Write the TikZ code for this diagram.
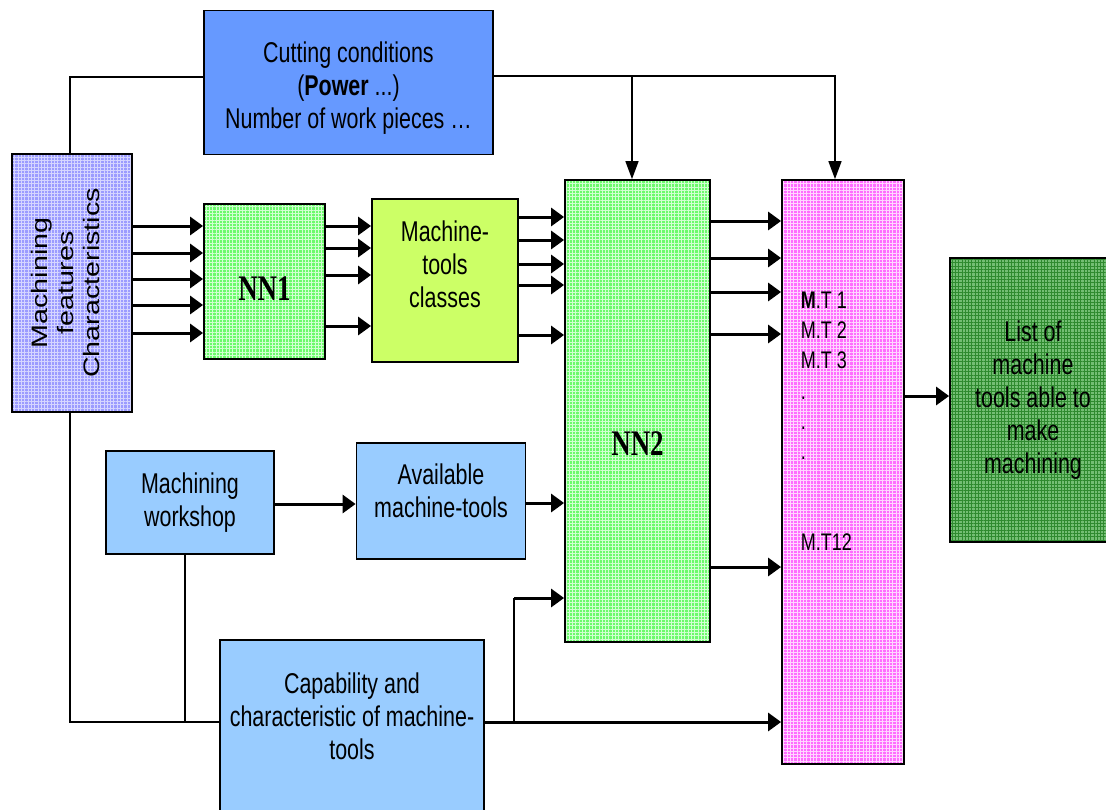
\documentclass[tikz,border=0pt]{standalone}
\usepackage{graphicx}
\usepackage{fontspec}
\setmainfont{Liberation Sans}[FakeStretch=0.75]
\newfontfamily\sidefont{Liberation Sans}
\newfontfamily\nnfont{Liberation Serif}[FakeStretch=0.75]
\usetikzlibrary{arrows.meta, patterns}

\definecolor{cutblue}{HTML}{6699FF}
\definecolor{featblue}{HTML}{9C9CFF}
\definecolor{featline}{HTML}{D6D6FF}
\definecolor{nngreen}{HTML}{6CFA6C}
\definecolor{nnline}{HTML}{D2FFD2}
\definecolor{classlime}{HTML}{CCFF66}
\definecolor{mtpink}{HTML}{FF6CFF}
\definecolor{mtline}{HTML}{FFD6FF}
\definecolor{listgreen}{HTML}{74BE74}
\definecolor{listline}{HTML}{2F8A2F}
\definecolor{shopblue}{HTML}{99CCFF}

% 细网格底纹
\pgfdeclarepatternformonly{mesh}{\pgfqpoint{-0.1pt}{-0.1pt}}{\pgfqpoint{3.4pt}{3.4pt}}{\pgfqpoint{3.3pt}{3.3pt}}{%
  \pgfsetlinewidth{0.8pt}
  \pgfpathmoveto{\pgfqpoint{0pt}{1.65pt}}\pgfpathlineto{\pgfqpoint{3.3pt}{1.65pt}}
  \pgfpathmoveto{\pgfqpoint{1.65pt}{0pt}}\pgfpathlineto{\pgfqpoint{1.65pt}{3.3pt}}
  \pgfusepath{stroke}}

% 文字上下微调: #1 = 抬高量
\newcommand\boxtext[2]{\raisebox{#1}[0pt][0pt]{\begin{tabular}[t]{@{}c@{}}#2\end{tabular}}}

\begin{document}
\begin{tikzpicture}[x=1pt, y=-1pt, line width=1.6pt,
  box/.style={draw, line width=1.8pt, inner sep=0pt, font=\fontsize{28.6}{33}\selectfont},
  meshfill/.style 2 args={preaction={fill=#1}, pattern=mesh, pattern color=#2},
  nnfont/.style={font=\nnfont\bfseries\fontsize{36}{42}\selectfont},
  arr/.style={line width=3pt, -{Triangle[length=13pt,width=18pt]}},
  drop/.style={-{Triangle[length=18pt,width=13pt]}}]
  \useasboundingbox (0,0) rectangle (1106,809);
  \clip (0,0) rectangle (1106,809);
  % 方框 (像素坐标, y 向下)
  \node[box, fill=cutblue, minimum width=289pt, minimum height=144pt] (cut) at (348.5,82.5)
    {\boxtext{20pt}{Cutting conditions\\(\textbf{Power} ...)\\Number of work pieces \ldots}};
  \node[box, meshfill={featblue}{featline}, minimum width=120pt, minimum height=258pt,
    font=\sidefont\fontsize{28.7}{33}\selectfont] (feat) at (72,283)
    {\rotatebox{90}{\scalebox{1}[0.78]{\boxtext{31pt}{Machining\\features\\Characteristics}}}};
  \node[box, nnfont, meshfill={nngreen}{nnline}, minimum width=121pt, minimum height=155pt] (nn1) at (264.5,281.5)
    {\boxtext{-19pt}{NN1}};
  \node[box, fill=classlime, minimum width=146pt, minimum height=163pt] (classes) at (445,280.5)
    {\boxtext{39pt}{Machine-\\tools\\classes}};
  \node[box, nnfont, meshfill={nngreen}{nnline}, minimum width=145pt, minimum height=462pt] (nn2) at (637.5,411)
    {\boxtext{-44pt}{NN2}};
  \node[box, meshfill={mtpink}{mtline}, minimum width=122pt, minimum height=584pt] (mt) at (843,472) {};
  \node[anchor=north west, inner sep=0pt, align=left, font=\fontsize{24}{30.3}\selectfont] (mtlist) at (800,291)
    {\textbf{M}.T 1\\M.T 2\\M.T 3\\.\\.\\.\\[60.6pt]M.T12};
  \node[box, meshfill={listgreen}{listline}, align=center, minimum width=166pt, minimum height=284pt] (list) at (1033,400)
    {List of\\machine\\tools able to\\make\\machining};
  \node[box, fill=shopblue, align=center, minimum width=168pt, minimum height=103pt] (shop) at (190,502.5)
    {Machining\\workshop};
  \node[box, fill=shopblue, minimum width=169pt, minimum height=116pt] (avail) at (441,501)
    {\boxtext{16.75pt}{Available\\machine-tools}};
  \node[box, fill=shopblue, minimum width=264pt, minimum height=172pt] (cap) at (352,726)
    {\boxtext{32.75pt}{Capability and\\characteristic of machine-\\tools}};
  % 顶部连线
  \coordinate (split) at (632,76);
  \draw (cut.west |- 0,77) -| (feat.north -| 70,0);
  \draw[drop] (cut.east |- 0,76) -| (mt.north -| 835,0);
  \draw[drop] (split) -- (nn2.north -| split);
  % 特征 -> NN1
  \draw[arr] (feat.east |- 0,226) -- (nn1.west |- 0,226);
  \draw[arr] (feat.east |- 0,253) -- (nn1.west |- 0,253);
  \draw[arr] (feat.east |- 0,279) -- (nn1.west |- 0,279);
  \draw[arr] (feat.east |- 0,305) -- (nn1.west |- 0,305);
  \draw[arr] (feat.east |- 0,333) -- (nn1.west |- 0,333);
  % NN1 -> 类别
  \draw[arr] (nn1.east |- 0,226) -- (classes.west |- 0,226);
  \draw[arr] (nn1.east |- 0,248) -- (classes.west |- 0,248);
  \draw[arr] (nn1.east |- 0,275) -- (classes.west |- 0,275);
  \draw[arr] (nn1.east |- 0,326) -- (classes.west |- 0,326);
  % 类别 -> NN2
  \draw[arr] (classes.east |- 0,217) -- (nn2.west |- 0,217);
  \draw[arr] (classes.east |- 0,240) -- (nn2.west |- 0,240);
  \draw[arr] (classes.east |- 0,264) -- (nn2.west |- 0,264);
  \draw[arr] (classes.east |- 0,285) -- (nn2.west |- 0,285);
  \draw[arr] (classes.east |- 0,335) -- (nn2.west |- 0,335);
  % NN2 -> M.T
  \draw[arr] (nn2.east |- 0,221) -- (mt.west |- 0,221);
  \draw[arr] (nn2.east |- 0,258) -- (mt.west |- 0,258);
  \draw[arr] (nn2.east |- 0,292) -- (mt.west |- 0,292);
  \draw[arr] (nn2.east |- 0,334) -- (mt.west |- 0,334);
  \draw[arr] (nn2.east |- 0,567) -- (mt.west |- 0,567);
  \draw[arr] (mt.east |- 0,396) -- (list.west |- 0,396);
  % 车间
  \draw[arr] (shop.east |- 0,504) -- (avail.west |- 0,504);
  \draw[arr] (avail.east |- 0,503) -- (nn2.west |- 0,503);
  % 底部连线
  \coordinate (tap) at (514,722);
  \coordinate (bend) at (514,598);
  \draw (feat.south -| 70,0) |- (cap.west |- 0,722);
  \draw (shop.south -| 185,0) |- (cap.west |- 0,722);
  \draw[arr] (cap.east |- 0,722) -- (mt.west |- 0,722);
  \draw (tap) -- (bend);
  \draw[arr] (bend) -- (nn2.west |- bend);
\end{tikzpicture}
\end{document}
